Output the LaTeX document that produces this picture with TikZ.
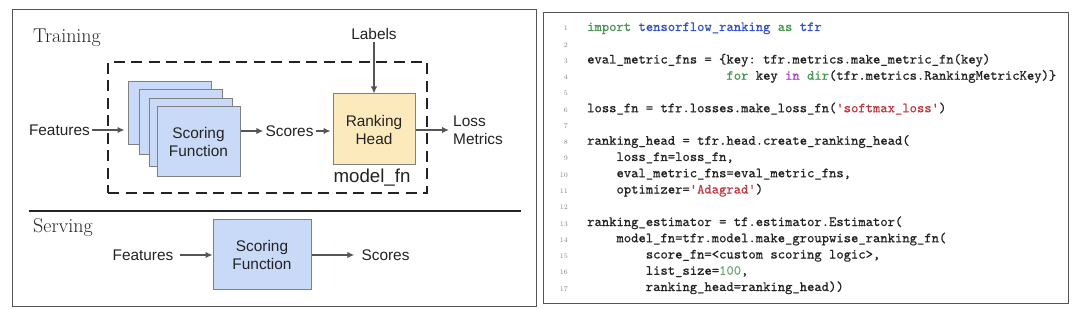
\documentclass[tikz,border=0pt]{standalone}
\usepackage{fontspec}
\newfontfamily\arialf{Liberation Sans}
\newfontfamily\codef{lmmono10-regular}[Extension=.otf, FakeBold=0.6]
\usetikzlibrary{arrows.meta}
\definecolor{sfblue}{RGB}{201,218,248}
\definecolor{rhyellow}{RGB}{252,234,188}
\definecolor{boxedge}{RGB}{128,128,128}
\definecolor{arrgray}{RGB}{85,85,85}
\definecolor{kwgreen}{RGB}{70,150,80}
\definecolor{idblue}{RGB}{50,80,200}
\definecolor{inmag}{RGB}{170,60,200}
\definecolor{strred}{RGB}{190,55,65}
\definecolor{numgreen}{RGB}{110,170,110}
\definecolor{codeink}{RGB}{35,35,35}
\newcommand\kwc[1]{\textcolor{kwgreen}{#1}}
\newcommand\idc[1]{\textcolor{idblue}{#1}}
\newcommand\mgc[1]{\textcolor{inmag}{#1}}
\newcommand\stc[1]{\textcolor{strred}{#1}}
\newcommand\nmc[1]{\textcolor{numgreen}{#1}}
\newcommand\indt[1]{\phantom{#1}}
\frenchspacing
\tikzset{
  arr/.style={draw=arrgray, line width=1.5pt, -{Latex[length=7pt,width=6.5pt]}},
  sfbox/.style={draw=boxedge, fill=sfblue, line width=1pt, minimum width=83pt, inner sep=0pt},
  rhbox/.style={draw=boxedge, fill=rhyellow, line width=1pt, minimum width=82pt, minimum height=71pt, inner sep=0pt},
  lbl/.style={font=\arialf\fontsize{15.4}{18}\selectfont, text=codeink, inner sep=2pt, align=center},
  sect/.style={font=\rmfamily\fontsize{20}{24}\selectfont, text=codeink, inner sep=0pt, anchor=base west},
  codeln/.style={font=\codef\fontsize{13.96}{16}\selectfont\frenchspacing, text=codeink, inner sep=0pt, anchor=base west},
  lnum/.style={font=\rmfamily\fontsize{7}{8}\selectfont, text=gray, inner sep=0pt, anchor=base east},
  panel/.style={draw=arrgray, line width=1pt}
}
\begin{document}
\begin{tikzpicture}[x=1pt,y=-1pt]
\useasboundingbox (0,0) rectangle (1080,310);
\fill[white] (0,0) rectangle (1080,310);
% panels
\node[panel, minimum width=524pt, minimum height=296pt, inner sep=0pt] (lpanel) at (274,158) {};
\node[panel, minimum width=525pt, minimum height=290pt, inner sep=0pt] (rpanel) at (805.5,158) {};
% section titles
\node[sect] (train) at (33,43) {Training};
\node[sect] (serve) at (33,233) {Serving};
\draw[line width=2pt, draw=codeink] (29,211) coordinate (rulea) -- (521,211) coordinate (ruleb);
% dashed model_fn box
\node[draw=codeink, line width=2.5pt, dash pattern=on 11pt off 6.5pt, minimum width=319pt, minimum height=131pt, inner sep=0pt] (mfbox) at (267.5,127.5) {};
% stacked scoring functions
\node[sfbox, minimum height=63pt] (sfa) at (169.5,113.5) {};
\node[sfbox, minimum height=65pt] (sfb) at (180.5,122.5) {};
\node[sfbox, minimum height=68pt] (sfc) at (190.5,133) {};
\node[sfbox, minimum height=70pt, font=\arialf\fontsize{15.4}{18}\selectfont, text=codeink, align=center] (sfd) at (198.5,142) {Scoring\\Function};
% training labels
\node[lbl, anchor=east] (feat) at (92,130) {Features};
\node[lbl] (scores) at (289.5,131) {Scores};
\node[rhbox, font=\arialf\fontsize{15.4}{18}\selectfont, text=codeink, align=center] (rh) at (374,129.5) {Ranking\\Head};
\node[lbl] (labels) at (374,34) {Labels};
\node[lbl, anchor=west, align=left] (lossm) at (451,130) {Loss\\Metrics};
\node[font=\arialf\fontsize{18.7}{22}\selectfont, text=codeink, inner sep=0pt] (mfn) at (372,178) {model\_fn};
% training arrows
\draw[arr, shorten >=3pt] (feat.east) -- (feat.east -| sfa.west);
\draw[arr] (sfd.east |- scores.west) -- (scores.west);
\draw[arr, shorten >=2pt] (scores.east) -- (scores.east -| rh.west);
\draw[arr] (labels.south) -- (rh.north);
\draw[arr, shorten >=2pt] (rh.east |- lossm.west) -- (lossm.west);
% serving
\node[sfbox, minimum width=98pt, minimum height=69pt, font=\arialf\fontsize{15.4}{18}\selectfont, text=codeink, align=center] (sbox) at (262,254.5) {Scoring\\Function};
\node[lbl] (feat2) at (143,255) {Features};
\node[lbl] (scores2) at (385.5,255) {Scores};
\draw[arr, shorten <=4pt] (feat2.east) -- (feat2.east -| sbox.west);
\draw[arr, shorten >=5pt] (sbox.east |- scores2.west) -- (scores2.west);
% code
\foreach \i in {1,...,17} {
  \node[lnum] (n\i) at (568, {31+16.25*(\i-1)}) {\i};
}
\node[codeln] (c1) at (587,31) {\kwc{import} \idc{tensorflow\_ranking} \kwc{as} \idc{tfr}};
\node[codeln] (c3) at (587,63.5) {eval\_metric\_fns = \{key: tfr.metrics.make\_metric\_fn(key)};
\node[codeln] (c4) at (587,79.75) {\indt{0000000000000000000}\kwc{for} key \mgc{in} \kwc{dir}(tfr.metrics.RankingMetricKey)\}};
\node[codeln] (c6) at (587,112.25) {loss\_fn = tfr.losses.make\_loss\_fn(\stc{'softmax\_loss'})};
\node[codeln] (c8) at (587,144.75) {ranking\_head = tfr.head.create\_ranking\_head(};
\node[codeln] (c9) at (587,161) {\indt{0000}loss\_fn=loss\_fn,};
\node[codeln] (c10) at (587,177.25) {\indt{0000}eval\_metric\_fns=eval\_metric\_fns,};
\node[codeln] (c11) at (587,193.5) {\indt{0000}optimizer=\stc{'Adagrad'})};
\node[codeln] (c13) at (587,226) {ranking\_estimator = tf.estimator.Estimator(};
\node[codeln] (c14) at (587,242.25) {\indt{0000}model\_fn=tfr.model.make\_groupwise\_ranking\_fn(};
\node[codeln] (c15) at (587,258.5) {\indt{00000000}score\_fn=<custom scoring logic>,};
\node[codeln] (c16) at (587,274.75) {\indt{00000000}list\_size=\nmc{100},};
\node[codeln] (c17) at (587,291) {\indt{00000000}ranking\_head=ranking\_head))};
\end{tikzpicture}
\end{document}
